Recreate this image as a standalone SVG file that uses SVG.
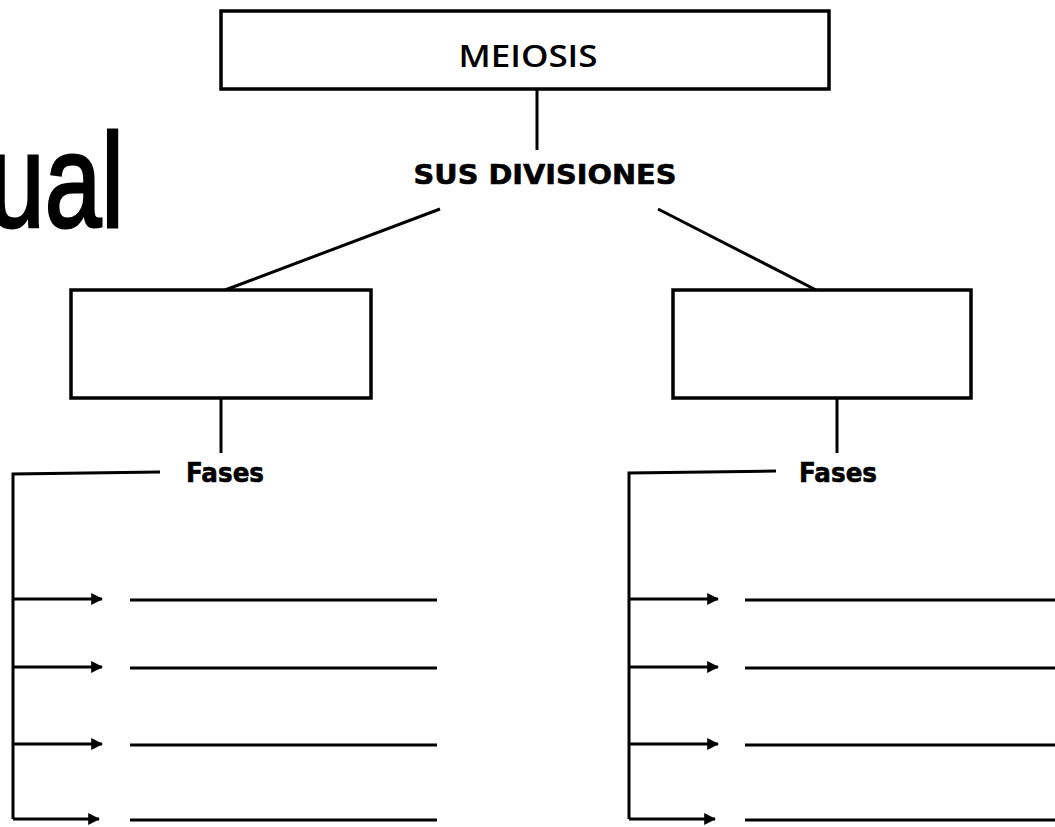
<svg xmlns="http://www.w3.org/2000/svg" width="1055" height="827" viewBox="0 0 1055 827">
  <style>
    .box { fill: #ffffff; stroke: #000000; stroke-width: 3.5; }
    .ln { fill: none; stroke: #000000; stroke-width: 3; stroke-linecap: butt; }
    .arr { fill: none; stroke: #000000; stroke-width: 3; marker-end: url(#head); }
    .title { font-family: "Open Sans", "Liberation Sans", sans-serif; font-size: 31px; font-weight: 600; fill: #000; }
    .lbl { font-family: "DejaVu Sans", sans-serif; font-weight: bold; fill: #000; stroke: #000; stroke-width: 0.6; }
    .big { font-family: "Liberation Sans", Arial, sans-serif; font-size: 134px; fill: #000; stroke: #000; stroke-width: 3; }
  </style>
  <defs>
    <marker id="head" viewBox="0 0 10 10" refX="9" refY="5" markerWidth="4" markerHeight="4" markerUnits="strokeWidth" orient="auto">
      <path d="M0,0 L10,5 L0,10 Z" fill="#000"/>
    </marker>
  </defs>
  <rect width="1055" height="827" fill="#ffffff"/>

  <!-- tail of the page heading -->
  <text class="big" transform="translate(124,227) scale(0.76,1)" x="0" y="0" text-anchor="end">ual</text>

  <g id="connectors">
    <line class="ln" x1="537" y1="89" x2="537" y2="150"/>
    <line class="ln" x1="440" y1="209" x2="225" y2="290"/>
    <line class="ln" x1="658" y1="209" x2="820" y2="292"/>
    <line class="ln" x1="221" y1="398" x2="221" y2="453"/>
    <line class="ln" x1="837" y1="398" x2="837" y2="453"/>

    <!-- left phase bracket -->
    <polyline class="ln" points="160,472 13,474 13,819"/>
    <line class="arr" x1="13" y1="599" x2="102" y2="599"/>
    <line class="arr" x1="13" y1="667" x2="102" y2="667"/>
    <line class="arr" x1="13" y1="744" x2="102" y2="744"/>
    <line class="arr" x1="13" y1="819" x2="99" y2="819"/>
    <line class="ln" x1="130" y1="600" x2="437" y2="600"/>
    <line class="ln" x1="130" y1="668" x2="437" y2="668"/>
    <line class="ln" x1="130" y1="745" x2="437" y2="745"/>
    <line class="ln" x1="130" y1="820" x2="437" y2="820"/>

    <!-- right phase bracket -->
    <polyline class="ln" points="776,471 629,473 629,819"/>
    <line class="arr" x1="629" y1="599" x2="718" y2="599"/>
    <line class="arr" x1="629" y1="667" x2="718" y2="667"/>
    <line class="arr" x1="629" y1="744" x2="718" y2="744"/>
    <line class="arr" x1="629" y1="819" x2="715" y2="819"/>
    <line class="ln" x1="745" y1="600" x2="1055" y2="600"/>
    <line class="ln" x1="745" y1="668" x2="1055" y2="668"/>
    <line class="ln" x1="745" y1="745" x2="1055" y2="745"/>
    <line class="ln" x1="745" y1="820" x2="1055" y2="820"/>
  </g>

  <g id="meiosis">
    <rect class="box" x="221" y="11" width="608" height="78"/>
    <text class="title" x="528" y="67" text-anchor="middle" textLength="139" lengthAdjust="spacingAndGlyphs">MEIOSIS</text>
  </g>

  <g id="sus-divisiones">
    <text class="lbl" x="545" y="184" font-size="27" text-anchor="middle" textLength="263" lengthAdjust="spacingAndGlyphs">SUS DIVISIONES</text>
  </g>

  <g id="division-1">
    <rect class="box" x="71" y="290" width="300" height="108"/>
  </g>

  <g id="division-2">
    <rect class="box" x="673" y="290" width="298" height="108"/>
  </g>

  <g id="fases-1">
    <text class="lbl" x="225" y="482" font-size="27" text-anchor="middle" textLength="78" lengthAdjust="spacingAndGlyphs">Fases</text>
  </g>

  <g id="fases-2">
    <text class="lbl" x="838" y="482" font-size="27" text-anchor="middle" textLength="78" lengthAdjust="spacingAndGlyphs">Fases</text>
  </g>
</svg>
